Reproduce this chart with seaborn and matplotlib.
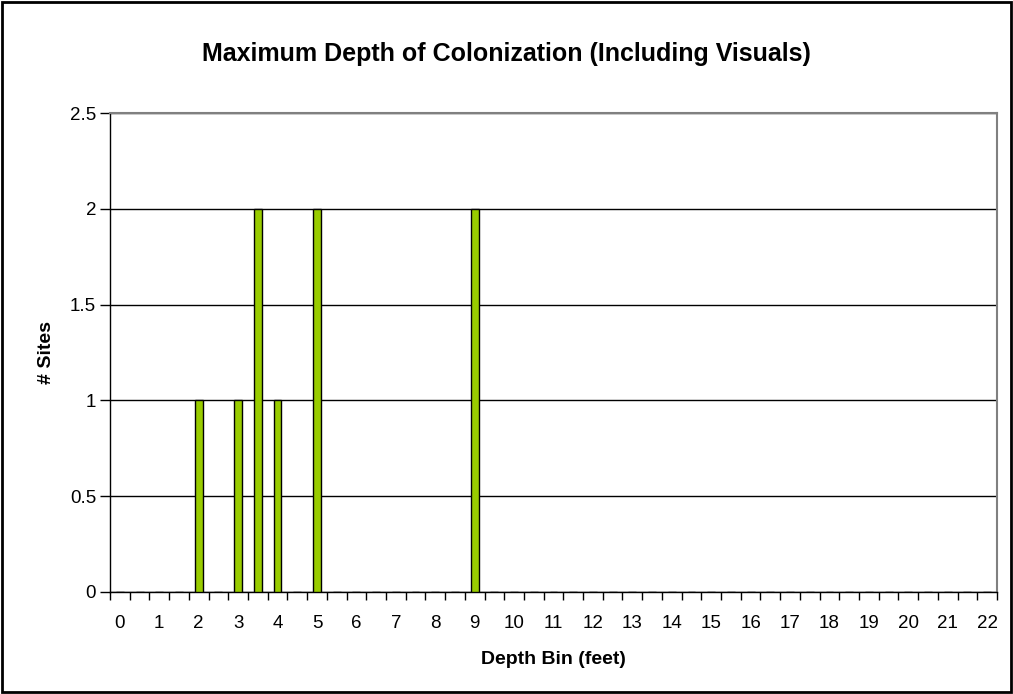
import matplotlib
matplotlib.use("Agg")
import matplotlib.pyplot as plt
import seaborn as sns
import pandas as pd
from matplotlib.patches import Rectangle

# depth bins (feet), half-foot steps as in the source sheet
depth_bins = ["0", "0.5", "1", "1.5", "2", "2.5", "3", "3.5", "4", "4.5",
              "5", "5.5", "6", "6.5", "7", "7.5", "8", "8.5", "9", "9.5",
              "10", "10.5", "11", "11.5", "12", "12.5", "13", "13.5", "14", "14.5",
              "15", "15.5", "16", "16.5", "17", "17.5", "18", "18.5", "19", "19.5",
              "20", "20.5", "21", "21.5", "22"]
site_counts = [0, 0, 0, 0, 1, 0, 1, 2, 1, 0,
               2, 0, 0, 0, 0, 0, 0, 0, 2, 0,
               0, 0, 0, 0, 0, 0, 0, 0, 0, 0,
               0, 0, 0, 0, 0, 0, 0, 0, 0, 0,
               0, 0, 0, 0, 0]
y_ticks = [0, 0.5, 1, 1.5, 2, 2.5]
y_tick_labels = ["0", "0.5", "1", "1.5", "2", "2.5"]

df = pd.DataFrame({"bin": depth_bins, "sites": site_counts})

sns.set_style("white")
plt.rcParams['font.family'] = ['Liberation Sans', 'DejaVu Sans']
plt.rcParams['text.color'] = 'black'
plt.rcParams['axes.labelcolor'] = 'black'
plt.rcParams['xtick.color'] = 'black'
plt.rcParams['ytick.color'] = 'black'

fig = plt.figure(figsize=(10.13, 6.94), dpi=100)
ax = fig.add_axes([110 / 1013, 102 / 694, 887 / 1013, 479 / 694])

sns.barplot(data=df, x="bin", y="sites", order=depth_bins, color="#99CC00",
            edgecolor="black", linewidth=1, width=0.4, saturation=1, ax=ax, zorder=3)

ax.set_xlim(-0.5, len(depth_bins) - 0.5)
ax.set_ylim(0, 2.5)

# gridlines
ax.set_yticks(y_ticks)
ax.set_yticklabels(y_tick_labels, fontsize=13.5)
ax.yaxis.grid(True, color="black", linewidth=1)
ax.set_axisbelow(True)
ax.tick_params(axis="y", left=True, length=7, width=1, color="black", direction="out", pad=3)

# x labels only on whole feet, tick marks on bin boundaries
major = [i for i, b in enumerate(depth_bins) if "." not in b]
ax.set_xticks(major)
ax.set_xticklabels([depth_bins[i] for i in major], fontsize=13.5)
ax.set_xticks([i - 0.5 for i in range(len(depth_bins) + 1)], minor=True)
ax.tick_params(axis="x", which="major", bottom=True, length=0, pad=16.5)
ax.tick_params(axis="x", which="minor", bottom=True, length=6, width=1, color="black", direction="out")

for side in ["top", "right"]:
    ax.spines[side].set_color("#808080")
    ax.spines[side].set_linewidth(1.5)
for side in ["left", "bottom"]:
    ax.spines[side].set_color("black")
    ax.spines[side].set_linewidth(1)
for s in ax.spines.values():
    s.set_visible(True)

ax.set_xlabel("Depth Bin (feet)", fontsize=14, fontweight="bold", labelpad=14)
ax.set_ylabel("# Sites", fontsize=14, fontweight="bold", labelpad=11)
fig.text(0.5, 1 - 54 / 694, "Maximum Depth of Colonization (Including Visuals)",
         ha="center", va="center", fontsize=18, fontweight="bold")

fig.patches.append(Rectangle((0.002, 0.003), 0.996, 0.994, transform=fig.transFigure,
                             fill=False, edgecolor="black", linewidth=2))

fig.savefig("out.png", dpi=100)
